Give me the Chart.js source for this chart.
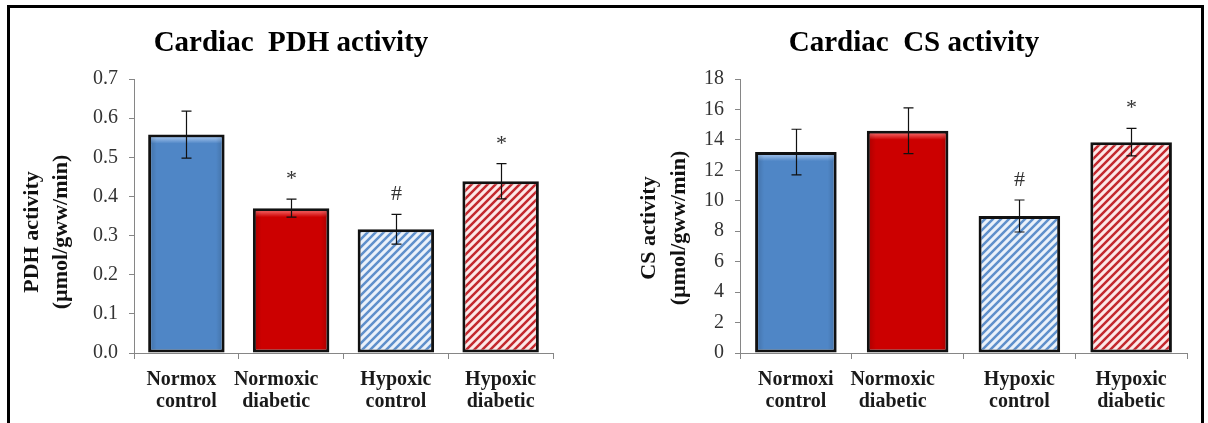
<!DOCTYPE html>
<html>
<head>
<meta charset="utf-8">
<script src="https://cdn.jsdelivr.net/npm/chart.js@4.4.1/dist/chart.umd.min.js"></script>
<style>
  html, body { margin: 0; padding: 0; background: #fff; }
  body { width: 1208px; height: 423px; position: relative; overflow: hidden; }
  .panel { position: absolute; top: 0; width: 604px; height: 423px; }
  .frame { position: absolute; left: 7px; top: 5px; width: 1197px; height: 600px;
           box-sizing: border-box; border: 3px solid #000; pointer-events: none; }
</style>
</head>
<body>
<div class="panel" style="left:0"><canvas id="pdh" width="604" height="423"></canvas></div>
<div class="panel" style="left:604px"><canvas id="cs" width="604" height="423"></canvas></div>
<div class="frame"></div>
<script>
// Groups shown on the x axis (two-line labels; trailing spaces keep the Excel-style offsets)
const pdhGroups = [['Normox  ', 'control'], ['Normoxic      ', 'diabetic      '], ['Hypoxic', 'control'], ['Hypoxic', 'diabetic']];
const csGroups  = [['Normoxi', 'control'], ['Normoxic      ', 'diabetic      '], ['Hypoxic', 'control'], ['Hypoxic', 'diabetic']];

// PDH activity (µmol/gww/min): mean and error
const pdhMean = [0.558, 0.370, 0.316, 0.439];
const pdhErr  = [0.060, 0.023, 0.038, 0.045];
const pdhMarks = ['', '*', '#', '*'];

// CS activity (µmol/gww/min): mean and error
const csMean = [13.2, 14.6, 9.0, 13.85];
const csErr  = [1.5, 1.5, 1.05, 0.9];
const csMarks = ['', '', '#', '*'];

// Value axes
const pdhTicks = [0, 0.1, 0.2, 0.3, 0.4, 0.5, 0.6, 0.7];
const csTicks  = [0, 2, 4, 6, 8, 10, 12, 14, 16, 18];

const SERIF = '"Liberation Serif", "Times New Roman", serif';

function hatch(bg, stripe) {
  const c = document.createElement('canvas');
  c.width = 8; c.height = 8;
  const g = c.getContext('2d');
  g.fillStyle = bg; g.fillRect(0, 0, 8, 8);
  g.strokeStyle = stripe; g.lineWidth = 2.5; g.lineCap = 'square';
  g.beginPath();
  g.moveTo(-1, 9); g.lineTo(9, -1);
  g.moveTo(-5, 5); g.lineTo(5, -5);
  g.moveTo(3, 13); g.lineTo(13, 3);
  g.stroke();
  return g.createPattern(c, 'repeat');
}

const fills = [
  '#4F86C6',
  '#CC0000',
  hatch('#EAF1FA', '#5E8FCB'),
  hatch('#FCE8E8', '#C3282E')
];
// lighter bevel on the top edge of the solid bars
const bevel = ['#9BBDE8', '#F05A5A', null, null];

// Bevel, error bars, significance marks, titles
const decor = {
  id: 'decor',
  afterDatasetsDraw(chart, args, o) {
    const ctx = chart.ctx;
    const ys = chart.scales.y;
    const meta = chart.getDatasetMeta(0);
    ctx.save();
    meta.data.forEach((bar, i) => {
      if (bevel[i]) {
        const l = bar.x - bar.width / 2 + 3, w = bar.width - 6, t = bar.y + 3;
        const g = ctx.createLinearGradient(0, t, 0, t + 6);
        g.addColorStop(0, bevel[i]);
        g.addColorStop(1, fills[i]);
        ctx.fillStyle = g;
        ctx.fillRect(l, t, w, 6);
        const s = ctx.createLinearGradient(l, 0, l + w, 0);
        s.addColorStop(0, 'rgba(0,0,0,0.12)');
        s.addColorStop(0.08, 'rgba(0,0,0,0)');
        s.addColorStop(0.92, 'rgba(0,0,0,0)');
        s.addColorStop(1, 'rgba(0,0,0,0.12)');
        ctx.fillStyle = s;
        ctx.fillRect(l, t, w, bar.base - t - 3);
      }
    });
    meta.data.forEach((bar, i) => {
      const x = Math.round(bar.x) + 0.5;
      const yt = ys.getPixelForValue(o.mean[i] + o.err[i]);
      const yb = ys.getPixelForValue(o.mean[i] - o.err[i]);
      ctx.strokeStyle = '#111';
      ctx.lineWidth = 1.2;
      ctx.beginPath();
      ctx.moveTo(x, yt); ctx.lineTo(x, yb);
      ctx.moveTo(x - 5, yt); ctx.lineTo(x + 5, yt);
      ctx.moveTo(x - 5, yb); ctx.lineTo(x + 5, yb);
      ctx.stroke();
      if (o.marks[i]) {
        ctx.fillStyle = '#333';
        ctx.font = '22px ' + SERIF;
        ctx.textAlign = 'center';
        ctx.textBaseline = 'alphabetic';
        ctx.fillText(o.marks[i], x, yt - 14);
      }
    });
    ctx.restore();
  },
  afterDraw(chart, args, o) {
    const ctx = chart.ctx;
    ctx.save();
    ctx.fillStyle = '#000';
    ctx.font = 'bold 29px ' + SERIF;
    ctx.textAlign = 'center';
    ctx.textBaseline = 'alphabetic';
    ctx.fillText(o.title, o.titleX, 51);
    ctx.translate(0, o.axisTitleY);
    ctx.rotate(-Math.PI / 2);
    ctx.font = 'bold 22px ' + SERIF;
    ctx.fillStyle = '#111';
    o.axisTitle.forEach((line, k) => ctx.fillText(line, 0, o.axisTitleX[k]));
    ctx.restore();
  }
};

function makeChart(id, groups, mean, err, marks, ticks, digits, padRight, yWidth, deco) {
  return new Chart(document.getElementById(id), {
    type: 'bar',
    data: {
      labels: groups,
      datasets: [{
        data: mean,
        backgroundColor: fills,
        borderColor: '#111',
        borderWidth: 3,
        borderSkipped: false,
        categoryPercentage: 1,
        barPercentage: 0.73
      }]
    },
    options: {
      responsive: false,
      animation: false,
      devicePixelRatio: 1,
      layout: { padding: { left: 0, right: padRight, top: 79, bottom: 10 } },
      plugins: {
        legend: { display: false },
        tooltip: { enabled: false },
        decor: Object.assign({ mean, err, marks }, deco)
      },
      scales: {
        x: {
          offset: true,
          grid: { offset: true, drawOnChartArea: false, tickLength: 6, color: '#868686' },
          border: { color: '#868686', width: 1 },
          ticks: {
            color: '#1a1a1a', padding: 10,
            autoSkip: false, maxRotation: 0, minRotation: 0,
            font: { family: SERIF, size: 20, weight: 'bold', lineHeight: 1.1 }
          },
          afterFit(s) { s.height = 60; }
        },
        y: {
          min: ticks[0],
          max: ticks[ticks.length - 1],
          afterBuildTicks(s) { s.ticks = ticks.map(v => ({ value: v })); },
          grid: { drawOnChartArea: false, tickLength: 5, color: '#868686' },
          border: { color: '#868686', width: 1 },
          ticks: {
            color: '#333',
            padding: 11,
            font: { family: SERIF, size: 20 },
            callback: v => Number(v).toFixed(digits)
          },
          afterFit(s) { s.width = yWidth; }
        }
      }
    },
    plugins: [decor]
  });
}

makeChart('pdh', pdhGroups, pdhMean, pdhErr, pdhMarks, pdhTicks, 1, 51, 134, {
  title: 'Cardiac  PDH activity', titleX: 291,
  axisTitle: ['PDH activity', '(µmol/gww/min)'], axisTitleX: [38, 67], axisTitleY: 232
});
makeChart('cs', csGroups, csMean, csErr, csMarks, csTicks, 0, 21, 136, {
  title: 'Cardiac  CS activity', titleX: 310,
  axisTitle: ['CS activity', '(µmol/gww/min)'], axisTitleX: [51, 81], axisTitleY: 228
});
</script>
</body>
</html>
